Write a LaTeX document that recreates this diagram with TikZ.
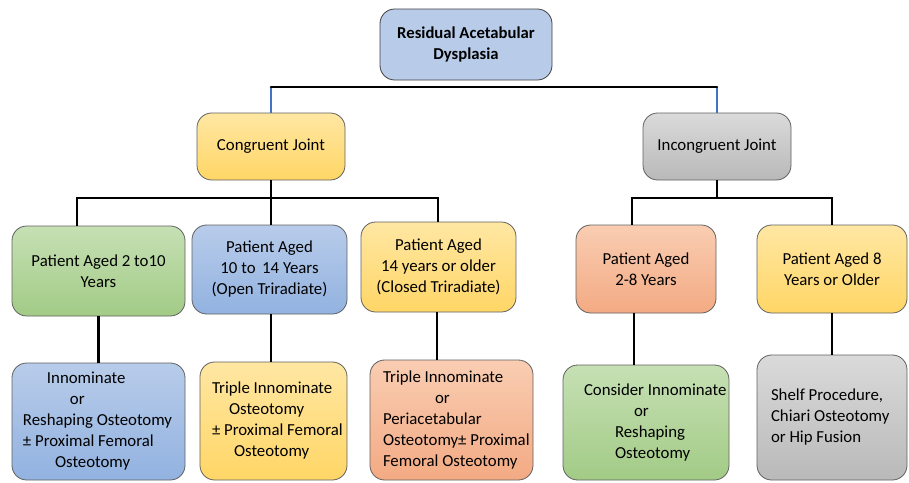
\documentclass[tikz,border=0pt]{standalone}
\usepackage{fontspec}
\setmainfont{Carlito}
\usetikzlibrary{positioning}

\definecolor{bluetop}{HTML}{B8CCEA}
\definecolor{bluebot}{HTML}{92B2E0}
\definecolor{yeltop}{HTML}{FFE7A3}
\definecolor{yelbot}{HTML}{FFD666}
\definecolor{saltop}{HTML}{F9CDB2}
\definecolor{salbot}{HTML}{F3AA83}
\definecolor{grntop}{HTML}{C6E0B4}
\definecolor{grnbot}{HTML}{A2CB86}
\definecolor{grytop}{HTML}{DADADA}
\definecolor{grybot}{HTML}{B9B9B9}
\definecolor{stubblue}{HTML}{4472C4}

% one line of a box, indented in pixels of the reference
\newcommand{\boxline}[2]{\mbox{\hspace*{0.75\dimexpr#1pt\relax}#2}}

\begin{document}
\begin{tikzpicture}[x = 0.75pt, y = -0.75pt, % one reference pixel
                    link/.style = {line width = 1.9pt, black},
                    stub/.style = {line width = 1.5pt, stubblue}
    ]

    \tikzset{box/.style = {rectangle, rounded corners = 11pt, draw = gray!75!black,
                 line width = 0.6pt, inner sep = 0pt, align = center,
                 font = \fontsize{12.6}{15.75}\selectfont},
             blu/.style = {box, top color = bluetop, bottom color = bluebot},
             yel/.style = {box, top color = yeltop, bottom color = yelbot},
             sal/.style = {box, top color = saltop, bottom color = salbot},
             grn/.style = {box, top color = grntop, bottom color = grnbot},
             gry/.style = {box, top color = grytop, bottom color = grybot}}

    \useasboundingbox (0,0) rectangle (909,482);

    % top
    \node (root) [box, fill = bluetop, draw = black!75, minimum width = 129pt,
        minimum height = 53.25pt, font = \fontsize{12.5}{15.75}\selectfont\bfseries]
        at (466,44.5) {Residual Acetabular\\Dysplasia};

    \node (cong) [yel, minimum width = 111pt, minimum height = 50.25pt] at (271,146.5)
        {Congruent Joint};
    \node (incong) [gry, minimum width = 111pt, minimum height = 50.25pt] at (717,146.5)
        {Incongruent Joint};

    % ages
    \node (pa) [grn, minimum width = 129.75pt, minimum height = 67.5pt] at (98.5,271)
        {Patient Aged 2 to10\\ Years};
    \node (pb) [blu, minimum width = 116.25pt, minimum height = 66.75pt] at (269.5,269.5)
        {Patient Aged\\ 10 to\, 14 Years\\(Open Triradiate)};
    \node (pc) [yel, minimum width = 116.25pt, minimum height = 67.5pt] at (438.5,267)
        {Patient Aged\\ 14 years or older\\ (Closed Triradiate)};
    \node (pd) [sal, minimum width = 105pt, minimum height = 66pt] at (646,269)
        {Patient Aged\\2-8 Years};
    \node (pe) [yel, minimum width = 112.5pt, minimum height = 66pt] at (832,269)
        {Patient Aged 8\\Years or Older};

    % procedures
    \node (oa) [blu, text width = 129.75pt, minimum height = 87.75pt, align = flush left]
        at (98.5,421.5)
        {\boxline{35}{Innominate}\\ \boxline{58}{or}\\ \boxline{11}{Reshaping Osteotomy}\\
         \boxline{11}{± Proximal Femoral}\\ \boxline{43}{Osteotomy}};
    \node (ob) [yel, text width = 110.25pt, minimum height = 88.5pt, align = flush left]
        at (273.5,421)
        {\boxline{12}{Triple Innominate}\\ \boxline{29}{Osteotomy}\\
         \boxline{12}{± Proximal Femoral}\\ \boxline{34}{Osteotomy}};
    \node (oc) [sal, text width = 122.25pt, minimum height = 90pt, align = flush left]
        at (451.5,420)
        {\boxline{13}{Triple Innominate}\\ \boxline{65}{or}\\ \boxline{13}{Periacetabular}\\
         \boxline{13}{Osteotomy± Proximal}\\ \boxline{13}{Femoral Osteotomy}};
    \node (od) [grn, text width = 124.5pt, minimum height = 86.25pt, align = flush left]
        at (646,422.5)
        {\boxline{21}{Consider Innominate}\\ \boxline{71}{or}\\ \boxline{52}{Reshaping}\\
         \boxline{52}{Osteotomy}};
    \node (oe) [gry, text width = 112.5pt, minimum height = 93.75pt, align = flush left]
        at (832,417.5)
        {\boxline{14}{Shelf Procedure,}\\ \boxline{14}{Chiari Osteotomy}\\
         \boxline{14}{or Hip Fusion}};

    % buses
    \coordinate (bus0) at (0,87);
    \coordinate (bus1l) at (77,198);
    \coordinate (bus1r) at (438,198);
    \coordinate (bus2l) at (632,198);

    \draw[stub] (cong.north) -- (cong.north |- bus0);
    \draw[stub] (incong.north) -- (incong.north |- bus0);
    \draw[link, line cap = round] (cong.north |- bus0) -- (incong.north |- bus0);

    \draw[link] (cong.south) -- (cong.south |- bus1l);
    \draw[link] (bus1l |- pa.north) -- (bus1l) -- (bus1r) -- (bus1r |- pc.north);
    \draw[link] (cong.south |- bus1l) -- (cong.south |- pb.north);

    \draw[link] (incong.south) -- (incong.south |- bus2l);
    \draw[link] (bus2l |- pd.north) -- (bus2l) -- (pe.north |- bus2l) -- (pe.north);

    \draw[link] (pa.south) -- (oa.north);
    \draw[link] ([xshift = 1.1pt]pb.south) -- ([xshift = 1.1pt]pb.south |- ob.north);
    \draw[link] ([xshift = -1.1pt]pc.south) -- ([xshift = -1.1pt]pc.south |- oc.north);
    \draw[link] ([xshift = -9pt]pd.south) -- ([xshift = -9pt]pd.south |- od.north);
    \draw[link] (pe.south) -- (oe.north);
\end{tikzpicture}
\end{document}
